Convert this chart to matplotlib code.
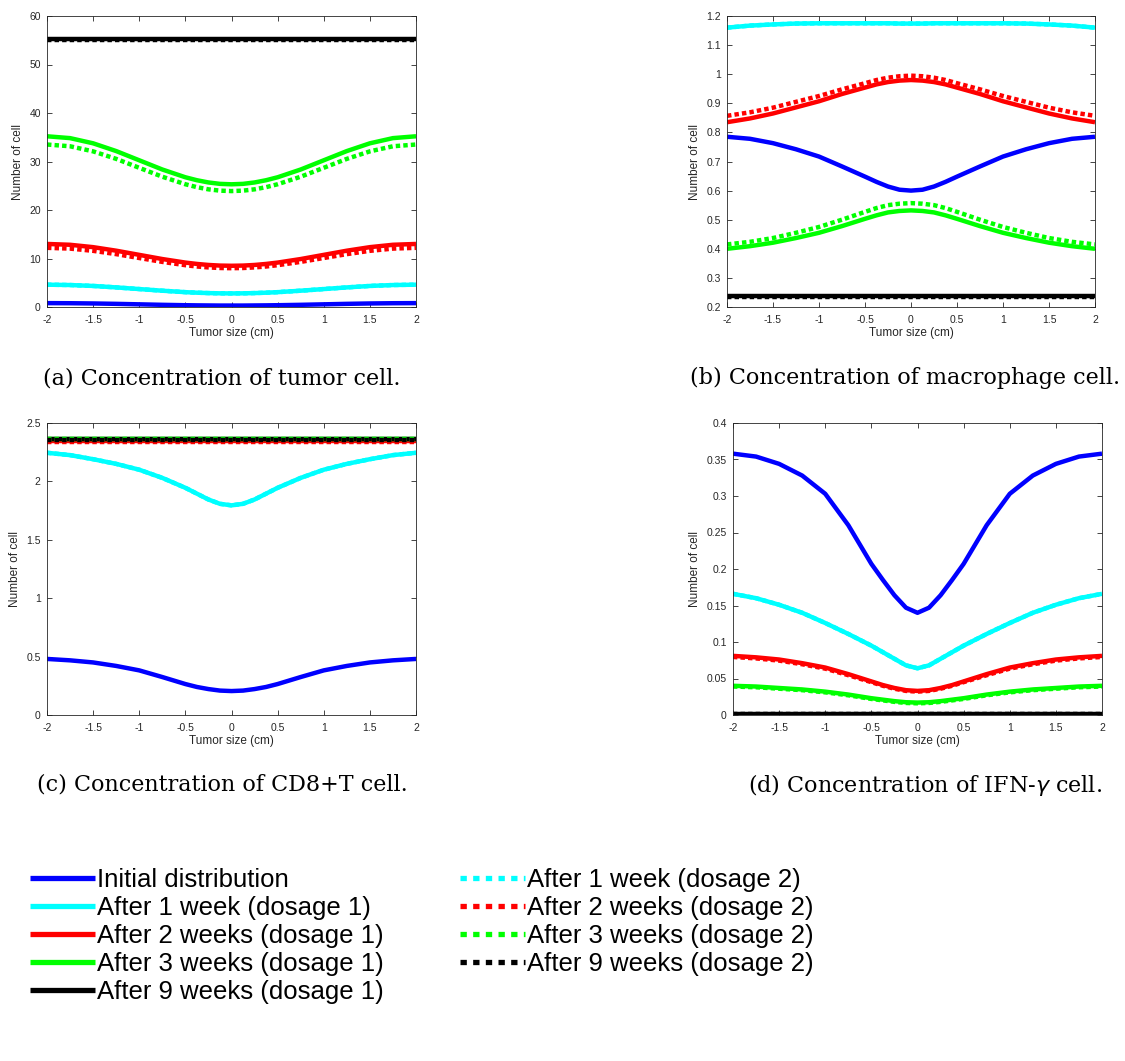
import matplotlib
matplotlib.use('Agg')
import matplotlib.pyplot as plt
from matplotlib.lines import Line2D
from matplotlib.ticker import FuncFormatter, MultipleLocator

plt.rcParams['font.family'] = ['Liberation Sans', 'DejaVu Sans']

# x 网格 (cm)
x = [-2, -1.75, -1.5, -1.25, -1, -0.75, -0.5, -0.375, -0.25, -0.125, 0,
     0.125, 0.25, 0.375, 0.5, 0.75, 1, 1.25, 1.5, 1.75, 2]

labels = ['Initial distribution',
          'After 1 week (dosage 1)',
          'After 2 weeks (dosage 1)',
          'After 3 weeks (dosage 1)',
          'After 9 weeks (dosage 1)',
          'After 1 week (dosage 2)',
          'After 2 weeks (dosage 2)',
          'After 3 weeks (dosage 2)',
          'After 9 weeks (dosage 2)']

# (a) tumor
tumor_init = [0.80, 0.78, 0.73, 0.65, 0.55, 0.45, 0.37, 0.34, 0.32, 0.30, 0.30,
              0.30, 0.32, 0.34, 0.37, 0.45, 0.55, 0.65, 0.73, 0.78, 0.80]
tumor_w1 = [4.60, 4.53, 4.34, 4.04, 3.70, 3.36, 3.06, 2.95, 2.87, 2.82, 2.80,
            2.82, 2.87, 2.95, 3.06, 3.36, 3.70, 4.04, 4.34, 4.53, 4.60]
tumor_w2 = [13.00, 12.83, 12.34, 11.61, 10.75, 9.89, 9.16, 8.88, 8.67, 8.54, 8.50,
            8.54, 8.67, 8.88, 9.16, 9.89, 10.75, 11.61, 12.34, 12.83, 13.00]
tumor_w3 = [35.20, 34.82, 33.75, 32.15, 30.25, 28.35, 26.75, 26.14, 25.68, 25.39, 25.30,
            25.39, 25.68, 26.14, 26.75, 28.35, 30.25, 32.15, 33.75, 34.82, 35.20]
tumor_w9 = [55.2] * 21
tumor_w1_d2 = tumor_w1
tumor_w2_d2 = [12.20, 12.04, 11.58, 10.90, 10.10, 9.30, 8.62, 8.35, 8.16, 8.04, 8.00,
               8.04, 8.16, 8.35, 8.62, 9.30, 10.10, 10.90, 11.58, 12.04, 12.20]
tumor_w3_d2 = [33.50, 33.14, 32.09, 30.54, 28.70, 26.86, 25.31, 24.71, 24.26, 23.99, 23.90,
               23.99, 24.26, 24.71, 25.31, 26.86, 28.70, 30.54, 32.09, 33.14, 33.50]
tumor_w9_d2 = [55.0] * 21

# (b) macrophage
mac_init = [0.785, 0.778, 0.763, 0.742, 0.717, 0.683, 0.648, 0.630, 0.614, 0.603, 0.600,
            0.603, 0.614, 0.630, 0.648, 0.683, 0.717, 0.742, 0.763, 0.778, 0.785]
mac_w1 = [1.160, 1.167, 1.171, 1.174, 1.175, 1.175, 1.175, 1.175, 1.175, 1.174, 1.174,
          1.174, 1.175, 1.175, 1.175, 1.175, 1.175, 1.174, 1.171, 1.167, 1.160]
mac_w2 = [0.835, 0.848, 0.865, 0.886, 0.907, 0.932, 0.954, 0.965, 0.973, 0.978, 0.980,
          0.978, 0.973, 0.965, 0.954, 0.932, 0.907, 0.886, 0.865, 0.848, 0.835]
mac_w3 = [0.400, 0.409, 0.421, 0.437, 0.455, 0.478, 0.503, 0.515, 0.525, 0.530, 0.532,
          0.530, 0.525, 0.515, 0.503, 0.478, 0.455, 0.437, 0.421, 0.409, 0.400]
mac_w9 = [0.238] * 21
mac_w1_d2 = mac_w1
mac_w2_d2 = [0.857, 0.869, 0.885, 0.905, 0.925, 0.948, 0.969, 0.980, 0.988, 0.993, 0.995,
             0.993, 0.988, 0.980, 0.969, 0.948, 0.925, 0.905, 0.885, 0.869, 0.857]
mac_w3_d2 = [0.415, 0.424, 0.437, 0.455, 0.475, 0.500, 0.527, 0.540, 0.550, 0.555, 0.557,
             0.555, 0.550, 0.540, 0.527, 0.500, 0.475, 0.455, 0.437, 0.424, 0.415]
mac_w9_d2 = [0.235] * 21

# (c) CD8+T
cd8_init = [0.480, 0.468, 0.450, 0.420, 0.382, 0.325, 0.265, 0.240, 0.222, 0.209, 0.205,
            0.209, 0.222, 0.240, 0.265, 0.325, 0.382, 0.420, 0.450, 0.468, 0.480]
cd8_w1 = [2.245, 2.225, 2.190, 2.150, 2.100, 2.030, 1.945, 1.895, 1.845, 1.808, 1.795,
          1.808, 1.845, 1.895, 1.945, 2.030, 2.100, 2.150, 2.190, 2.225, 2.245]
cd8_w2 = [2.346] * 21
cd8_w3 = [2.364] * 21
cd8_w9 = [2.360] * 21
cd8_w1_d2 = cd8_w1
cd8_w2_d2 = [2.340] * 21
cd8_w3_d2 = [2.362] * 21
cd8_w9_d2 = [2.358] * 21

# (d) IFN-gamma
ifn_init = [0.358, 0.354, 0.344, 0.328, 0.303, 0.260, 0.207, 0.185, 0.164, 0.147, 0.140,
            0.147, 0.164, 0.185, 0.207, 0.260, 0.303, 0.328, 0.344, 0.354, 0.358]
ifn_w1 = [0.166, 0.160, 0.151, 0.140, 0.126, 0.111, 0.095, 0.086, 0.077, 0.068, 0.064,
          0.068, 0.077, 0.086, 0.095, 0.111, 0.126, 0.140, 0.151, 0.160, 0.166]
ifn_w2 = [0.081, 0.079, 0.076, 0.071, 0.065, 0.056, 0.046, 0.041, 0.037, 0.034, 0.033,
          0.034, 0.037, 0.041, 0.046, 0.056, 0.065, 0.071, 0.076, 0.079, 0.081]
ifn_w3 = [0.040, 0.039, 0.037, 0.035, 0.032, 0.028, 0.023, 0.021, 0.019, 0.0175, 0.017,
          0.0175, 0.019, 0.021, 0.023, 0.028, 0.032, 0.035, 0.037, 0.039, 0.040]
ifn_w9 = [0.002] * 21
ifn_w1_d2 = ifn_w1
ifn_w2_d2 = [0.0795, 0.0775, 0.0745, 0.0695, 0.0635, 0.0545, 0.045, 0.040, 0.036, 0.033, 0.032,
             0.033, 0.036, 0.040, 0.045, 0.0545, 0.0635, 0.0695, 0.0745, 0.0775, 0.0795]
ifn_w3_d2 = [0.039, 0.038, 0.036, 0.034, 0.031, 0.027, 0.022, 0.020, 0.018, 0.0165, 0.016,
             0.0165, 0.018, 0.020, 0.022, 0.027, 0.031, 0.034, 0.036, 0.038, 0.039]
ifn_w9_d2 = [0.002] * 21

panels = [
    ([tumor_init, tumor_w1, tumor_w2, tumor_w3, tumor_w9,
      tumor_w1_d2, tumor_w2_d2, tumor_w3_d2, tumor_w9_d2], (0, 60), 10,
     '(a) Concentration of tumor cell.'),
    ([mac_init, mac_w1, mac_w2, mac_w3, mac_w9,
      mac_w1_d2, mac_w2_d2, mac_w3_d2, mac_w9_d2], (0.2, 1.2), 0.1,
     '(b) Concentration of macrophage cell.'),
    ([cd8_init, cd8_w1, cd8_w2, cd8_w3, cd8_w9,
      cd8_w1_d2, cd8_w2_d2, cd8_w3_d2, cd8_w9_d2], (0, 2.5), 0.5,
     '(c) Concentration of CD8+T cell.'),
    ([ifn_init, ifn_w1, ifn_w2, ifn_w3, ifn_w9,
      ifn_w1_d2, ifn_w2_d2, ifn_w3_d2, ifn_w9_d2], (0, 0.4), 0.05,
     r'(d) Concentration of IFN-$\gamma$ cell.'),
]

colors = ['#0000ff', '#00ffff', '#ff0000', '#00ff00', '#000000',
          '#00ffff', '#ff0000', '#00ff00', '#000000']
dotted = (0, (1, 0.7))
styles = ['-'] * 5 + [dotted] * 4

W, H = 1125, 1061
# 轴的像素位置 (left, top, right, bottom)
boxes = [(47, 16, 416, 307), (727, 16, 1095, 307),
         (47, 423, 416, 715), (733, 423, 1102, 715)]
cap_pos = [(222, 378), (905, 378), (222, 785), (925, 785)]

fig = plt.figure(figsize=(W / 100, H / 100), dpi=100)
axc = '#262626'
fmt = FuncFormatter(lambda v, p: '%g' % round(v, 6))

for i, (series, ylim, ystep, cap) in enumerate(panels):
    l, t, r, b = boxes[i]
    ax = fig.add_axes([l / W, 1 - b / H, (r - l) / W, (b - t) / H])
    for k, y in enumerate(series):
        ax.plot(x, y, color=colors[k], linestyle=styles[k], linewidth=3.2,
                solid_capstyle='butt', solid_joinstyle='round')
    ax.set_xlim(-2, 2)
    ax.set_ylim(*ylim)
    ax.xaxis.set_major_locator(MultipleLocator(0.5))
    ax.yaxis.set_major_locator(MultipleLocator(ystep))
    ax.xaxis.set_major_formatter(fmt)
    ax.yaxis.set_major_formatter(fmt)
    ax.tick_params(direction='in', top=True, right=True, length=3.5, width=0.6,
                   labelsize=7.5, colors=axc)
    ax.tick_params(axis='x', pad=5.5)
    ax.tick_params(axis='y', pad=4.5)
    for s in ax.spines.values():
        s.set_color(axc)
        s.set_linewidth(0.6)
    ax.set_xlabel('Tumor size (cm)', fontsize=8.5, color=axc, labelpad=2)
    ax.set_ylabel('Number of cell', fontsize=8.5, color=axc, labelpad=4)
    cx, cy = cap_pos[i]
    fig.text(cx / W, 1 - cy / H, cap, ha='center', va='center', fontsize=16,
             family=['DejaVu Serif'])

# 图例单独做句柄, 点线间距比曲线里的大一些
handles = []
for k in range(9):
    ls = '-' if k < 5 else (0, (1.2, 1.2))
    handles.append(Line2D([], [], color=colors[k], linestyle=ls, linewidth=3.8,
                          solid_capstyle='butt'))

fig.legend(handles, labels, ncol=2, loc='upper left', bbox_to_anchor=(20 / W, 1 - 858 / H),
           frameon=False, fontsize=18.5, handlelength=2.5, handletextpad=0.08,
           labelspacing=0.15, columnspacing=3.0, borderaxespad=0)

fig.savefig('out.png', dpi=100)
